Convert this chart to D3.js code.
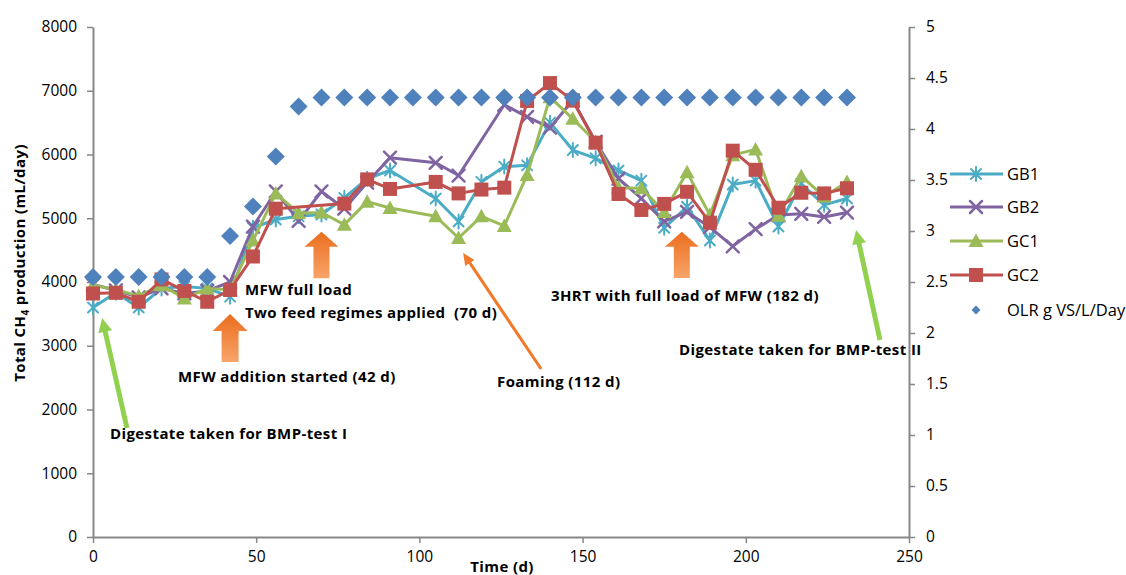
<!DOCTYPE html>
<html>
<head>
<meta charset="utf-8">
<script src="https://d3js.org/d3.v7.min.js"></script>
<style>
body { margin: 0; background: #fff; }
text { font-family: 'Open Sans', sans-serif; fill: #000; }
</style>
</head>
<body>
<div id="chart"></div>
<script>
// days sampled for each reactor (not every series has every day)
const daysGB1 = [0,7,14,21,28,35,42,49,56,63,70,77,84,91,105,112,119,126,133,140,147,154,161,168,175,182,189,196,203,210,217,224,231];
const daysGB2 = [0,7,14,21,28,35,42,49,56,63,70,77,84,91,105,112,126,133,140,147,154,161,168,175,182,189,196,203,210,217,224,231];
const daysGC1 = daysGB1;
const daysGC2 = [0,7,14,21,28,35,42,49,56,77,84,91,105,112,119,126,133,140,147,154,161,168,175,182,189,196,203,210,217,224,231];
const daysOLR = [0,7,14,21,28,35,42,49,56,63,70,77,84,91,98,105,112,119,126,133,140,147,154,161,168,175,182,189,196,203,210,217,224,231];

// CH4 production, mL/day
const gb1 = [3600,3830,3600,3900,3930,3900,3770,4850,4980,5030,5060,5320,5620,5750,5310,4950,5570,5810,5830,6500,6070,5940,5750,5590,4850,5180,4650,5530,5590,4870,5540,5210,5310];
const gb2 = [3960,3870,3760,3900,3820,3860,4000,4870,5420,4960,5420,5150,5560,5950,5870,5670,6780,6590,6420,6850,6200,5620,5310,4950,5100,4860,4560,4830,5050,5070,5020,5090];
const gc1 = [3950,3880,3780,3950,3740,3900,3880,4650,5390,5080,5090,4900,5260,5160,5030,4690,5030,4880,5680,6900,6560,6200,5480,5470,5100,5720,5050,5990,6080,5040,5660,5340,5570];
const gc2 = [3820,3830,3690,4040,3860,3690,3875,4400,5150,5230,5610,5460,5570,5390,5450,5480,6840,7120,6845,6185,5380,5130,5225,5415,4930,6060,5760,5165,5400,5390,5470];
// organic loading rate, g VS/L/day (right axis)
const olr = [2.55,2.55,2.55,2.55,2.55,2.55,2.95,3.24,3.73,4.22,4.31,4.31,4.31,4.31,4.31,4.31,4.31,4.31,4.31,4.31,4.31,4.31,4.31,4.31,4.31,4.31,4.31,4.31,4.31,4.31,4.31,4.31,4.31,4.31];

const xTicks = [0,50,100,150,200,250];
const yTicks = [0,1000,2000,3000,4000,5000,6000,7000,8000];
const y2Ticks = [0,0.5,1,1.5,2,2.5,3,3.5,4,4.5,5];

const series = [
    { name: 'GB1', days: daysGB1, values: gb1, color: '#4BACC6', marker: 'star' },
    { name: 'GB2', days: daysGB2, values: gb2, color: '#8064A2', marker: 'x' },
    { name: 'GC1', days: daysGC1, values: gc1, color: '#9BBB59', marker: 'triangle' },
    { name: 'GC2', days: daysGC2, values: gc2, color: '#C0504D', marker: 'square' }
];

const svg = d3.select('#chart')
    .append('svg')
    .attr('width', 1126)
    .attr('height', 575);

const margin = { top: 27, right: 217, bottom: 38, left: 93 };
const width = 1126 - margin.left - margin.right;
const height = 575 - margin.top - margin.bottom;

const defs = svg.append('defs');
const grad = defs.append('linearGradient')
    .attr('id', 'orange')
    .attr('x1', 0).attr('y1', 0).attr('x2', 0).attr('y2', 1);
grad.append('stop').attr('offset', '0%').attr('stop-color', '#EB6E1E');
grad.append('stop').attr('offset', '100%').attr('stop-color', '#F7A469');

const g = svg.append('g')
    .attr('transform', 'translate(' + margin.left + ',' + margin.top + ')');

const x = d3.scaleLinear().domain([0, 250]).range([0, width]);
const y = d3.scaleLinear().domain([0, 8000]).range([height, 0]);
const y2 = d3.scaleLinear().domain([0, 5]).range([height, 0]);

function styleAxis(sel) {
    sel.select('.domain').attr('stroke', '#878787').attr('stroke-width', 2);
    sel.selectAll('.tick line').attr('stroke', '#878787').attr('stroke-width', 1.5);
    sel.selectAll('.tick text').style('font-size', '15.5px').attr('fill', '#000');
}

g.append('g')
    .attr('class', 'axis axis--y')
    .call(d3.axisLeft(y).tickValues(yTicks).tickSizeInner(6).tickSizeOuter(0).tickPadding(10).tickFormat(d3.format('')))
    .call(styleAxis);

g.append('g')
    .attr('class', 'axis axis--y2')
    .attr('transform', 'translate(' + width + ',0)')
    .call(d3.axisRight(y2).tickValues(y2Ticks).tickSizeInner(6).tickSizeOuter(0).tickPadding(11).tickFormat(d3.format('')))
    .call(styleAxis);

g.append('g')
    .attr('class', 'axis axis--x')
    .attr('transform', 'translate(0,' + height + ')')
    .call(d3.axisBottom(x).tickValues(xTicks).tickSizeInner(6).tickSizeOuter(0).tickPadding(8))
    .call(styleAxis);

// marker shapes
const markerPath = {
    star: 'M-5,-5L5,5M-5,5L5,-5M0,-7L0,7',
    x: 'M-6,-6L6,6M-6,6L6,-6',
    triangle: 'M0,-7.5L7.5,6L-7.5,6Z',
    square: 'M-7,-7H7V7H-7Z',
    diamond: 'M0,-9L9,0L0,9L-9,0Z'
};

function drawMarkers(sel, kind, color) {
    const filled = kind === 'triangle' || kind === 'square' || kind === 'diamond';
    sel.attr('d', markerPath[kind])
        .attr('fill', filled ? color : 'none')
        .attr('stroke', color)
        .attr('stroke-width', filled ? 0 : (kind === 'x' ? 2.5 : 2))
        .attr('stroke-linecap', 'round');
}

const line = d3.line()
    .x(d => x(d.day))
    .y(d => y(d.v));

series.forEach(s => {
    const pts = s.days.map((d, i) => ({ day: d, v: s.values[i] }));
    g.append('path')
        .datum(pts)
        .attr('fill', 'none')
        .attr('stroke', s.color)
        .attr('stroke-width', 3)
        .attr('stroke-linejoin', 'round')
        .attr('d', line);
    g.selectAll(null)
        .data(pts)
        .enter().append('path')
        .attr('transform', d => 'translate(' + x(d.day) + ',' + y(d.v) + ')')
        .call(drawMarkers, s.marker, s.color);
});

g.selectAll('.olr')
    .data(daysOLR.map((d, i) => ({ day: d, v: olr[i] })))
    .enter().append('path')
    .attr('class', 'olr')
    .attr('transform', d => 'translate(' + x(d.day) + ',' + y2(d.v) + ')')
    .call(drawMarkers, 'diamond', '#4F81BD');

// annotation arrows (day, value on left axis)
function arrowPoints(x0, y0, x1, y1, sw, hl, hw) {
    const dx = x1 - x0, dy = y1 - y0, L = Math.hypot(dx, dy);
    const ux = dx / L, uy = dy / L, px = -uy, py = ux;
    const bx = x1 - ux * hl, by = y1 - uy * hl;
    return [
        [x0 + px * sw / 2, y0 + py * sw / 2],
        [bx + px * sw / 2, by + py * sw / 2],
        [bx + px * hw / 2, by + py * hw / 2],
        [x1, y1],
        [bx - px * hw / 2, by - py * hw / 2],
        [bx - px * sw / 2, by - py * sw / 2],
        [x0 - px * sw / 2, y0 - py * sw / 2]
    ].map(p => p.join(',')).join(' ');
}

const arrows = [
    { from: [10.4, 1710], to: [2.8, 3435], sw: 5, hl: 14, hw: 14, fill: '#92D050' },
    { from: [42, 2745], to: [42, 3498], sw: 17, hl: 17, hw: 35, fill: 'url(#orange)' },
    { from: [70, 4058], to: [70, 4789], sw: 16, hl: 15, hw: 34, fill: 'url(#orange)' },
    { from: [137.3, 2635], to: [113.4, 4455], sw: 3, hl: 12, hw: 11, fill: '#F07A2A' },
    { from: [180.4, 4063], to: [180.4, 4789], sw: 16, hl: 15, hw: 34, fill: 'url(#orange)' },
    { from: [241.1, 3090], to: [233.8, 4816], sw: 5, hl: 14, hw: 14, fill: '#92D050' }
];

g.selectAll('.arrow')
    .data(arrows)
    .enter().append('polygon')
    .attr('class', 'arrow')
    .attr('points', d => arrowPoints(x(d.from[0]), y(d.from[1]), x(d.to[0]), y(d.to[1]), d.sw, d.hl, d.hw))
    .attr('fill', d => d.fill);

// annotation labels
const notes = [
    ['MFW full load', 245, 295],
    ['Two feed regimes applied  (70 d)', 245, 318],
    ['MFW addition started (42 d)', 178, 382],
    ['Digestate taken for BMP-test I', 110, 439],
    ['Foaming (112 d)', 497, 387],
    ['3HRT with full load of MFW (182 d)', 551, 301],
    ['Digestate taken for BMP-test II', 679, 355]
];
svg.selectAll('.note')
    .data(notes)
    .enter().append('text')
    .attr('class', 'note')
    .attr('x', d => d[1])
    .attr('y', d => d[2])
    .style('font-size', '15px')
    .style('letter-spacing', '0.4px')
    .style('font-weight', 'bold')
    .style('white-space', 'pre')
    .text(d => d[0]);

// axis titles
const yTitle = svg.append('text')
    .attr('transform', 'translate(25,263) rotate(-90)')
    .attr('text-anchor', 'middle')
    .style('font-size', '15px')
    .style('letter-spacing', '0.4px')
    .style('font-weight', 'bold');
yTitle.append('tspan').text('Total CH');
yTitle.append('tspan').attr('dy', 4).style('font-size', '10px').text('4');
yTitle.append('tspan').attr('dy', -4).text(' production (mL/day)');

svg.append('text')
    .attr('x', 502)
    .attr('y', 572)
    .attr('text-anchor', 'middle')
    .style('font-size', '15px')
    .style('letter-spacing', '0.4px')
    .style('font-weight', 'bold')
    .text('Time (d)');

// legend
const legend = svg.append('g').attr('transform', 'translate(950,0)');
const legendRows = series.map(s => ({ name: s.name, color: s.color, marker: s.marker, line: true }))
    .concat([{ name: 'OLR g VS/L/Day', color: '#4F81BD', marker: 'diamond', line: false }]);
const rowY = [174, 207, 241, 275, 310];

legendRows.forEach((r, i) => {
    const row = legend.append('g').attr('transform', 'translate(0,' + rowY[i] + ')');
    if (r.line) {
        row.append('line')
            .attr('x1', 0).attr('x2', 53)
            .attr('stroke', r.color)
            .attr('stroke-width', 3);
    }
    row.append('path')
        .attr('transform', 'translate(26,0)' + (r.line ? '' : ' scale(0.5)'))
        .call(drawMarkers, r.marker, r.color);
    row.append('text')
        .attr('x', 57)
        .attr('dy', '0.35em')
        .style('font-size', '16.5px')
        .text(r.name);
});
</script>
</body>
</html>
